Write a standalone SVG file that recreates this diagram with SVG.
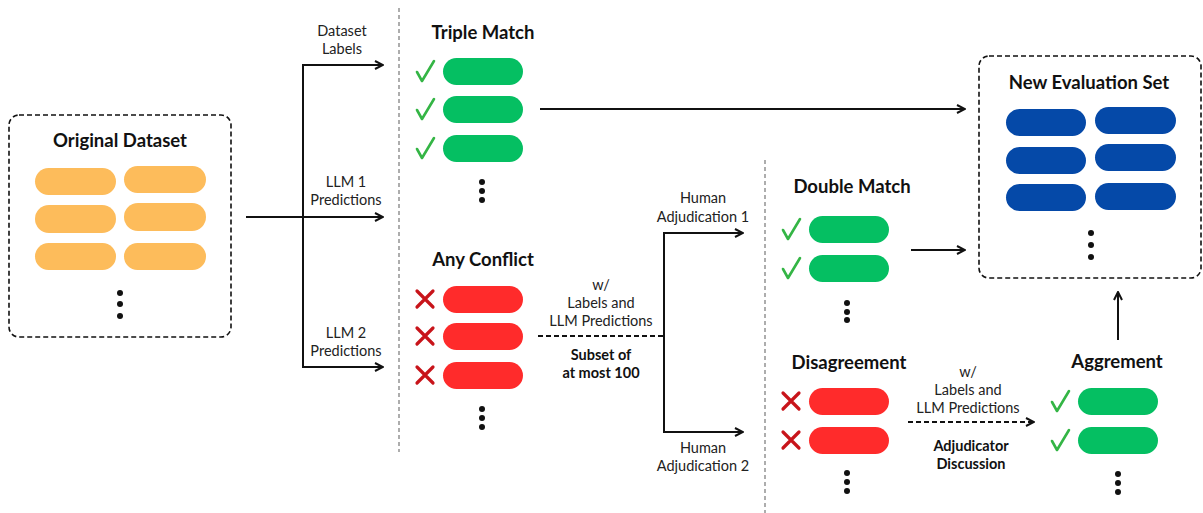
<svg xmlns="http://www.w3.org/2000/svg" width="1203" height="513" viewBox="0 0 1203 513">
<style>
.t{font-family:Lato,"Liberation Sans",sans-serif;font-size:18.5px;font-weight:700;fill:#111;text-anchor:middle}
.s{font-family:Lato,"Liberation Sans",sans-serif;font-size:14.5px;fill:#222;text-anchor:middle}
.b{font-family:Lato,"Liberation Sans",sans-serif;font-size:14.5px;font-weight:700;fill:#111;text-anchor:middle}
.box{fill:none;stroke:#111;stroke-width:1.6;stroke-dasharray:5 3}
.sep{stroke:#999;stroke-width:1.6;stroke-dasharray:4 3}
.o{fill:#FDBC5B}.g{fill:#05BF62}.r{fill:#FF2B2B}.bl{fill:#0549A8}
.ln{fill:none;stroke:#111;stroke-width:2}
.dl{fill:none;stroke:#111;stroke-width:2;stroke-dasharray:5 3}
.chk{fill:none;stroke:#34B545;stroke-width:2.6;stroke-linecap:round;stroke-linejoin:round}
.xm{fill:none;stroke:#C8141A;stroke-width:3.2;stroke-linecap:round}
</style>
<defs>
<marker id="ah" viewBox="0 0 10 10" refX="9" refY="5" markerWidth="10" markerHeight="10" markerUnits="userSpaceOnUse" orient="auto-start-reverse">
<path d="M1,1 L9,5 L1,9" fill="none" stroke="#111" stroke-width="2"/>
</marker>
<path id="ck" class="chk" d="M-8,1 L-3,10 L9,-10"/>
<path id="xx" class="xm" d="M-8,-8 L8,8 M8,-8 L-8,8"/>
<circle id="d" r="3" fill="#111"/>
</defs>

<line class="sep" x1="399" y1="8" x2="399" y2="452"/>
<line class="sep" x1="765" y1="160" x2="765" y2="513"/>

<g id="original-dataset">
<rect class="box" x="9" y="115" width="222" height="222" rx="10"/>
<text class="t" x="120" y="147">Original Dataset</text>
<rect class="o" x="35" y="168" width="81" height="27" rx="13.5"/>
<rect class="o" x="35" y="205" width="81" height="28" rx="14"/>
<rect class="o" x="35" y="243" width="81" height="27" rx="13.5"/>
<rect class="o" x="124" y="166" width="82" height="27" rx="13.5"/>
<rect class="o" x="124" y="203" width="82" height="28" rx="14"/>
<rect class="o" x="124" y="243" width="82" height="27" rx="13.5"/>
<use href="#d" x="120" y="293"/><use href="#d" x="120" y="304"/><use href="#d" x="120" y="316"/>
</g>

<g id="triple-match">
<text class="t" x="483" y="39">Triple Match</text>
<rect class="g" x="443" y="58" width="80" height="27" rx="13.5"/>
<rect class="g" x="443" y="96" width="80" height="27" rx="13.5"/>
<rect class="g" x="443" y="135" width="80" height="27" rx="13.5"/>
<use href="#ck" x="425" y="71"/><use href="#ck" x="425" y="109"/><use href="#ck" x="425" y="148"/>
<use href="#d" x="482" y="182"/><use href="#d" x="482" y="191"/><use href="#d" x="482" y="200"/>
</g>

<g id="any-conflict">
<text class="t" x="483" y="266">Any Conflict</text>
<rect class="r" x="443" y="286" width="80" height="27" rx="13.5"/>
<rect class="r" x="443" y="323" width="80" height="27" rx="13.5"/>
<rect class="r" x="443" y="362" width="80" height="27" rx="13.5"/>
<use href="#xx" x="425" y="299"/><use href="#xx" x="425" y="336"/><use href="#xx" x="425" y="375"/>
<use href="#d" x="482" y="409"/><use href="#d" x="482" y="418"/><use href="#d" x="482" y="427"/>
</g>

<g id="double-match">
<text class="t" x="852" y="193">Double Match</text>
<rect class="g" x="809" y="216" width="80" height="27" rx="13.5"/>
<rect class="g" x="809" y="255" width="80" height="27" rx="13.5"/>
<use href="#ck" x="791" y="229"/><use href="#ck" x="791" y="268"/>
<use href="#d" x="847" y="303"/><use href="#d" x="847" y="312"/><use href="#d" x="847" y="320"/>
</g>

<g id="disagreement">
<text class="t" x="849" y="369">Disagreement</text>
<rect class="r" x="809" y="388" width="80" height="27" rx="13.5"/>
<rect class="r" x="809" y="427" width="80" height="27" rx="13.5"/>
<use href="#xx" x="791" y="401"/><use href="#xx" x="791" y="440"/>
<use href="#d" x="847" y="473"/><use href="#d" x="847" y="482"/><use href="#d" x="847" y="491"/>
</g>

<g id="new-evaluation-set">
<rect class="box" x="979" y="56" width="222" height="222" rx="10"/>
<text class="t" x="1089" y="89">New Evaluation Set</text>
<rect class="bl" x="1006" y="109" width="80" height="27" rx="13.5"/>
<rect class="bl" x="1006" y="147" width="80" height="27" rx="13.5"/>
<rect class="bl" x="1006" y="184" width="80" height="27" rx="13.5"/>
<rect class="bl" x="1095" y="107" width="81" height="27" rx="13.5"/>
<rect class="bl" x="1095" y="144" width="81" height="27" rx="13.5"/>
<rect class="bl" x="1095" y="183" width="81" height="27" rx="13.5"/>
<use href="#d" x="1091" y="233"/><use href="#d" x="1091" y="245"/><use href="#d" x="1091" y="257"/>
</g>

<g id="aggrement">
<text class="t" x="1117" y="368">Aggrement</text>
<rect class="g" x="1078" y="388" width="80" height="27" rx="13.5"/>
<rect class="g" x="1078" y="427" width="80" height="27" rx="13.5"/>
<use href="#ck" x="1060" y="401"/><use href="#ck" x="1060" y="440"/>
<use href="#d" x="1118" y="474"/><use href="#d" x="1118" y="483"/><use href="#d" x="1118" y="492"/>
</g>

<g id="connectors">
<line class="ln" x1="246" y1="217" x2="383" y2="217" marker-end="url(#ah)"/>
<polyline class="ln" points="383,65 303,65 303,367 383,367" marker-start="url(#ah)" marker-end="url(#ah)"/>
<line class="ln" x1="540" y1="109" x2="965" y2="109" marker-end="url(#ah)"/>
<line class="dl" x1="538" y1="336" x2="664" y2="336"/>
<polyline class="ln" points="743,233 664,233 664,432 743,432" marker-start="url(#ah)" marker-end="url(#ah)"/>
<line class="ln" x1="911" y1="250" x2="965" y2="250" marker-end="url(#ah)"/>
<line class="dl" x1="908" y1="422" x2="1034" y2="422" marker-end="url(#ah)"/>
<line class="ln" x1="1118" y1="340" x2="1118" y2="292" marker-end="url(#ah)"/>
</g>

<g id="labels">
<text class="s" x="342" y="36">Dataset</text>
<text class="s" x="342" y="54">Labels</text>
<text class="s" x="346" y="187">LLM 1</text>
<text class="s" x="346" y="205">Predictions</text>
<text class="s" x="346" y="338">LLM 2</text>
<text class="s" x="346" y="356">Predictions</text>
<text class="s" x="601" y="290">w/</text>
<text class="s" x="601" y="308">Labels and</text>
<text class="s" x="601" y="326">LLM Predictions</text>
<text class="b" x="601" y="360">Subset of</text>
<text class="b" x="601" y="378">at most 100</text>
<text class="s" x="703" y="203">Human</text>
<text class="s" x="703" y="222">Adjudication 1</text>
<text class="s" x="703" y="453">Human</text>
<text class="s" x="703" y="471">Adjudication 2</text>
<text class="s" x="968" y="377">w/</text>
<text class="s" x="968" y="395">Labels and</text>
<text class="s" x="968" y="413">LLM Predictions</text>
<text class="b" x="971" y="451">Adjudicator</text>
<text class="b" x="971" y="469">Discussion</text>
</g>
</svg>
